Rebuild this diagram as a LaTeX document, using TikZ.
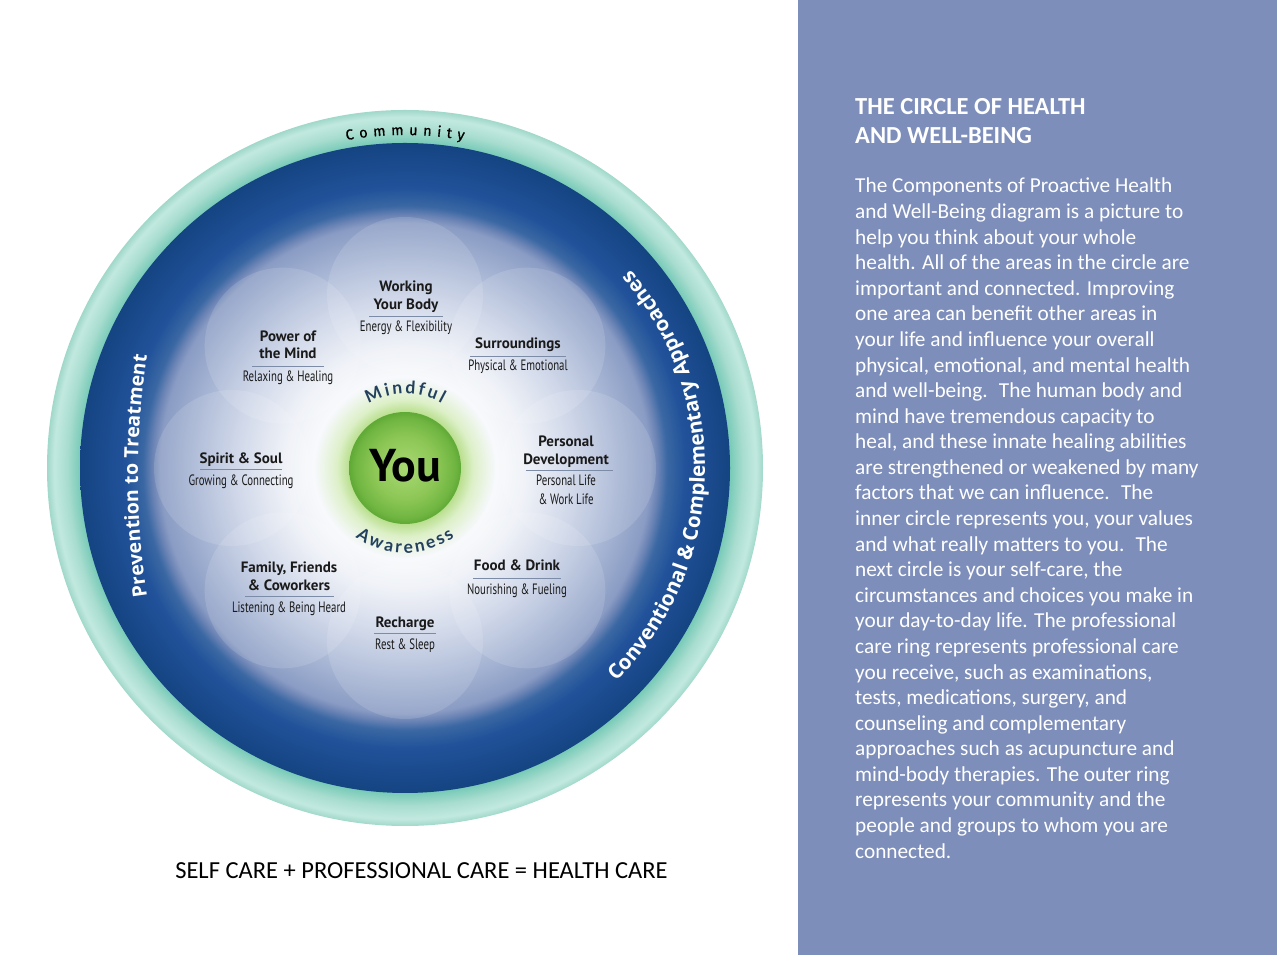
\documentclass[tikz,border=0pt]{standalone}
\usepackage{fontspec}
\setmainfont{Carlito}
\newfontfamily\myr{PT Sans}
\newfontfamily\myrc[FakeStretch=0.72]{PT Sans}
\newfontfamily\ringfont{Open Sans}
\newfontfamily\arcwide[WordSpace=1.4,FakeBold=0.6]{Fira Sans}
\newfontfamily\arcnarrow[WordSpace=0.6]{Lato}
\usetikzlibrary{decorations.text}

\definecolor{panel}{HTML}{7D8EBB}
\definecolor{tA}{HTML}{6EC6B3}
\definecolor{tB}{HTML}{A8DDCF}
\definecolor{tC}{HTML}{C2E9DF}
\definecolor{tD}{HTML}{A0D8C9}
\definecolor{bA}{HTML}{EEF1F7}
\definecolor{bB}{HTML}{C9D2E6}
\definecolor{bC}{HTML}{A3B2D2}
\definecolor{bD}{HTML}{8A9CC4}
\definecolor{bE}{HTML}{6E86B6}
\definecolor{bF}{HTML}{3B68A3}
\definecolor{bG}{HTML}{21529A}
\definecolor{bH}{HTML}{154482}
\definecolor{gA}{HTML}{A9D873}
\definecolor{gB}{HTML}{8DC756}
\definecolor{gC}{HTML}{71B642}
\definecolor{gD}{HTML}{5FA936}
\definecolor{glA}{HTML}{B9DF8E}
\definecolor{glB}{HTML}{DDF0C8}
\definecolor{glC}{HTML}{F6F8FB}
\definecolor{arcblue}{HTML}{23405E}
\definecolor{labtext}{HTML}{1A1A1A}
\definecolor{rulec}{HTML}{7D8CA6}

% circle edge corresponds to 25bp
\pgfdeclareradialshading{tealring}{\pgfpoint{0bp}{0bp}}{color(0bp)=(tA); color(22.5bp)=(tA); color(23.6bp)=(tB); color(24.5bp)=(tC); color(25bp)=(tD); color(50bp)=(tD)}
\pgfdeclareradialshading{bluedisk}{\pgfpoint{0bp}{0bp}}{color(0bp)=(white); color(5.4bp)=(white); color(9.25bp)=(bA); color(13.1bp)=(bB); color(16.55bp)=(bC); color(18.85bp)=(bD); color(19.4bp)=(bE); color(20.15bp)=(bF); color(21.55bp)=(bG); color(25bp)=(bH); color(50bp)=(bH)}
\pgfdeclareradialshading{glow}{\pgfpoint{0bp}{0bp}}{color(0bp)=(glA); color(15.5bp)=(glA); color(19bp)=(glB); color(25bp)=(glC); color(50bp)=(glC)}
\pgfdeclareradialshading{greenball}{\pgfpoint{0bp}{0bp}}{color(0bp)=(gA); color(14bp)=(gB); color(22bp)=(gC); color(25bp)=(gD); color(50bp)=(gD)}

\tikzset{
  ttl/.style={font=\myr\bfseries\fontsize{15}{15}\selectfont, text=labtext, inner sep=0pt, anchor=base},
  sub/.style={font=\myrc\fontsize{15}{15}\selectfont, text=labtext, inner sep=0pt, anchor=base},
  rulest/.style={draw=rulec, line width=0.6pt},
  lobe/.style={fill=white, fill opacity=0.13},
  bodyline/.style={font=\fontsize{21.3}{25.6}\selectfont, text=white, inner sep=0pt, anchor=base west},
  headline/.style={font=\bfseries\fontsize{24.5}{29}\selectfont, text=white, inner sep=0pt, anchor=base west},
}

\begin{document}
\begin{tikzpicture}[x=1pt,y=1pt]
\useasboundingbox (0,0) rectangle (1277,955);
\fill[white] (0,0) rectangle (1277,955);
\fill[panel] (798,0) rectangle (1277,955);

\coordinate (c) at (405,487);
\shade[shading=tealring] (c) circle[radius=358];
\shade[shading=bluedisk] (c) circle[radius=325];
\foreach \a in {0,45,...,315}
  \path[lobe] ([shift={(\a:173)}]c) circle[radius=78];
\shade[shading=glow] (c) circle[radius=90];
\shade[shading=greenball] (c) circle[radius=56];
\node[font=\myr\bfseries\fontsize{46}{46}\selectfont, text=black, inner sep=0pt, anchor=base] (you) at (405,473) {You};

% arc texts
\path[decorate, decoration={text along path, text color=arcblue, text align=center,
  text={|\arcnarrow\bfseries\fontsize{17.5}{17.5}\selectfont|M i n d f u l}}]
  ([shift={(150:74)}]c) arc[start angle=150, end angle=30, radius=74];
\path[decorate, decoration={text along path, text color=arcblue, text align=center,
  text={|\arcnarrow\bfseries\fontsize{17.5}{17.5}\selectfont|A w a r e n e s s}}]
  ([shift={(210:85)}]c) arc[start angle=210, end angle=330, radius=85];
\path[decorate, decoration={text along path, text color=black, text align=center,
  text={|\arcwide\fontsize{14.5}{14.5}\selectfont|C o m m u n i t y}}]
  ([shift={(125:333)}]c) arc[start angle=125, end angle=55, radius=333];
\coordinate (pc) at (938,479);
\path[decorate, decoration={text along path, text color=white, text align=center,
  text={|\ringfont\bfseries\fontsize{19.5}{19.5}\selectfont|Prevention to Treatment}}]
  ([shift={(190:800)}]pc) arc[start angle=190, end angle=170, radius=800];
\path[decorate, decoration={text along path, text color=white, text align=center,
  text={|\ringfont\bfseries\fontsize{20.5}{20.5}\selectfont|Conventional {\&} Complementary Approaches}}]
  ([shift={(-62:300)}]c) arc[start angle=-62, end angle=58, radius=300];

\begin{scope}[shift={(0,955)}, yscale=-1]
% Working Your Body
\node[ttl] (wyb1) at (406,291.7) {Working};
\node[ttl] (wyb2) at (406,309.3) {Your Body};
\draw[rulest] (369,316.7) -- (443,316.7);
\node[sub] (wybs) at (406,331.7) {Energy \& Flexibility};
% Power of the Mind
\node[ttl] (pm1) at (288,341.7) {Power of};
\node[ttl] (pm2) at (288,359) {the Mind};
\draw[rulest] (252,366) -- (324,366);
\node[sub] (pms) at (288,381.7) {Relaxing \& Healing};
% Surroundings
\node[ttl] (sur1) at (518,348.3) {Surroundings};
\draw[rulest] (470,356.7) -- (566,356.7);
\node[sub] (surs) at (518,371) {Physical \& Emotional};
% Spirit & Soul
\node[ttl] (ss1) at (241,463.3) {Spirit \& Soul};
\draw[rulest] (200,469.3) -- (282,469.3);
\node[sub] (sss) at (241,485.7) {Growing \& Connecting};
% Personal Development
\node[ttl] (pd1) at (566,446.7) {Personal};
\node[ttl] (pd2) at (566,464.3) {Development};
\draw[rulest] (526,470) -- (613,470);
\node[sub] (pds1) at (566,486) {Personal Life};
\node[sub] (pds2) at (566,504.3) {\& Work Life};
% Family
\node[ttl] (ff1) at (289,572.3) {Family, Friends};
\node[ttl] (ff2) at (289,590.7) {\& Coworkers};
\draw[rulest] (245,596.7) -- (334,596.7);
\node[sub] (ffs) at (289,612.7) {Listening \& Being Heard};
% Food & Drink
\node[ttl] (fd1) at (517,571) {Food \& Drink};
\draw[rulest] (473,578.3) -- (561,578.3);
\node[sub] (fds) at (517,594.3) {Nourishing \& Fueling};
% Recharge
\node[ttl] (rc1) at (405,627.7) {Recharge};
\draw[rulest] (374,633.3) -- (436,633.3);
\node[sub] (rcs) at (405,650) {Rest \& Sleep};

% caption
\node[font=\fontsize{24.5}{29}\selectfont, text=black, inner sep=0pt, anchor=base] (cap) at (421.5,879) {SELF CARE + PROFESSIONAL CARE = HEALTH CARE};

% right panel
\node[headline] (h1) at (855,115) {THE CIRCLE OF HEALTH};
\node[headline] (h2) at (855,144) {AND WELL-BEING};
\foreach \t [count=\i from 0] in {
 {The Components of Proactive Health},
 {and Well-Being diagram is a picture to},
 {help you think about your whole},
 {health. All of the areas in the circle are},
 {important and connected. Improving},
 {one area can benefit other areas in},
 {your life and influence your overall},
 {physical, emotional, and mental health},
 {and well-being.~ The human body and},
 {mind have tremendous capacity to},
 {heal, and these innate healing abilities},
 {are strengthened or weakened by many},
 {factors that we can influence.~ The},
 {inner circle represents you, your values},
 {and what really matters to you.~ The},
 {next circle is your self-care, the},
 {circumstances and choices you make in},
 {your day-to-day life. The professional},
 {care ring represents professional care},
 {you receive, such as examinations,},
 {tests, medications, surgery, and},
 {counseling and complementary},
 {approaches such as acupuncture and},
 {mind-body therapies. The outer ring},
 {represents your community and the},
 {people and groups to whom you are},
 {connected.}}
  \node[bodyline] (body\i) at (855,{193+25.58*\i}) {\t};
\end{scope}
\end{tikzpicture}
\end{document}
